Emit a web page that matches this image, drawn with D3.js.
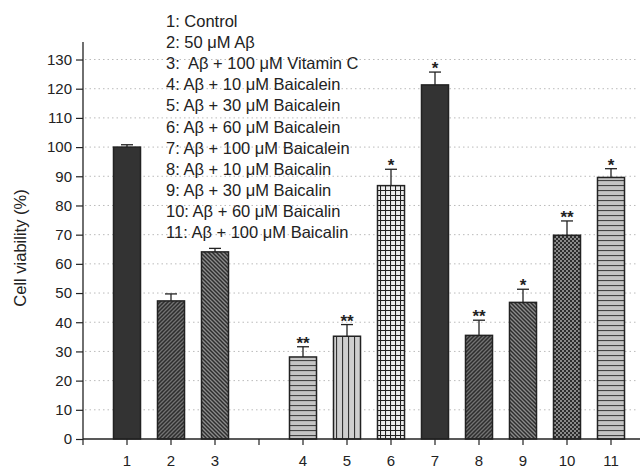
<!DOCTYPE html>
<html>
<head>
<meta charset="utf-8">
<script src="https://cdn.jsdelivr.net/npm/d3@7"></script>
<style>
  body { margin: 0; background: #fff; }
  svg text { font-family: "Liberation Sans", Arial, sans-serif; }
</style>
</head>
<body>
<script>
// data
var categories = ["1", "2", "3", "4", "5", "6", "7", "8", "9", "10", "11"];
var slots = ["1", "2", "3", "gap", "4", "5", "6", "7", "8", "9", "10", "11"];
var viability = [100, 47.3, 64.1, 28.1, 35.2, 86.8, 121.3, 35.5, 46.8, 69.8, 89.6];
var sem = [0.8, 2.4, 1.2, 3.5, 4.0, 5.6, 4.4, 5.2, 4.5, 4.9, 3.0];
var stars = ["", "", "", "**", "**", "*", "*", "**", "*", "**", "*"];
var patterns = ["solid", "fwd", "back", "horiz", "vert", "grid", "solid", "fwd", "back", "check", "horiz"];
var y_ticks = [0, 10, 20, 30, 40, 50, 60, 70, 80, 90, 100, 110, 120, 130];
var legend_lines = [
  "1: Control",
  "2: 50 \u03bcM A\u03b2",
  "3:  A\u03b2 + 100 \u03bcM Vitamin C",
  "4: A\u03b2 + 10 \u03bcM Baicalein",
  "5: A\u03b2 + 30 \u03bcM Baicalein",
  "6: A\u03b2 + 60 \u03bcM Baicalein",
  "7: A\u03b2 + 100 \u03bcM Baicalein",
  "8: A\u03b2 + 10 \u03bcM Baicalin",
  "9: A\u03b2 + 30 \u03bcM Baicalin",
  "10: A\u03b2 + 60 \u03bcM Baicalin",
  "11: A\u03b2 + 100 \u03bcM Baicalin"
];

var w = 640, h = 470;
var axis_x = 83;
var axis_y = 439;

var svg = d3.select("body").append("svg").attr("width", w).attr("height", h);
var defs = svg.append("defs");

// fill patterns
var make_pattern = function(id, size, bg, draw){
  var p = defs.append("pattern").attr("id", id)
    .attr("patternUnits", "userSpaceOnUse")
    .attr("width", size).attr("height", size);
  p.append("rect").attr("width", size).attr("height", size).attr("fill", bg);
  draw(p);
}
make_pattern("fwd", 4, "#2e2e2e", function(p){
  p.append("path").attr("d", "M-1,1 l2,-2 M0,4 l4,-4 M3,5 l2,-2")
    .attr("stroke", "#737373").attr("stroke-width", 1.3);
});
make_pattern("back", 4, "#8c8c8c", function(p){
  p.append("path").attr("d", "M-1,3 l2,2 M0,0 l4,4 M3,-1 l2,2")
    .attr("stroke", "#2e2e2e").attr("stroke-width", 1.5);
});
make_pattern("horiz", 5, "#c4c4c4", function(p){
  p.append("line").attr("x1", 0).attr("x2", 5).attr("y1", 0.5).attr("y2", 0.5)
    .attr("stroke", "#444").attr("stroke-width", 1.2);
});
make_pattern("vert", 6, "#cfcfcf", function(p){
  p.append("line").attr("y1", 0).attr("y2", 6).attr("x1", 0.5).attr("x2", 0.5)
    .attr("stroke", "#333").attr("stroke-width", 1.2);
});
make_pattern("grid", 5, "#ececec", function(p){
  p.append("path").attr("d", "M0,0.5 h5 M0.5,0 v5")
    .attr("stroke", "#222").attr("stroke-width", 1.1);
});
make_pattern("check", 4, "#2c2c2c", function(p){
  p.append("rect").attr("x", 0).attr("y", 0).attr("width", 2).attr("height", 2).attr("fill", "#8a8a8a");
  p.append("rect").attr("x", 2).attr("y", 2).attr("width", 2).attr("height", 2).attr("fill", "#8a8a8a");
});

var fill_for = function(name){
  return name == "solid" ? "#333" : "url(#" + name + ")";
}

// scales
var x = d3.scaleBand().domain(slots).range([105, 633])
  .paddingInner(0.386).paddingOuter(0.193);
var y = d3.scaleLinear().domain([0, 136]).range([axis_y, 42]);

// grid lines
svg.append("g").selectAll("line").data(y_ticks.filter(function(d){ return d > 0; }))
  .enter().append("line")
  .attr("x1", axis_x + 2).attr("x2", 636)
  .attr("y1", function(d){ return y(d); }).attr("y2", function(d){ return y(d); })
  .attr("stroke", "#bbb").attr("stroke-width", 1)
  .attr("stroke-dasharray", "1.5,3");

// bars
var rows = categories.map(function(c, i){
  return {cat: c, v: viability[i], e: sem[i], s: stars[i], p: patterns[i]};
});

var bars = svg.append("g").selectAll("g").data(rows).enter().append("g");
bars.append("rect")
  .attr("x", function(d){ return x(d.cat); })
  .attr("y", function(d){ return y(d.v); })
  .attr("width", x.bandwidth())
  .attr("height", function(d){ return axis_y - y(d.v); })
  .attr("fill", function(d){ return fill_for(d.p); })
  .attr("stroke", "#222").attr("stroke-width", 1.5);

// error bars (upper only)
var cx = function(d){ return x(d.cat) + x.bandwidth()/2; };
bars.append("line")
  .attr("x1", cx).attr("x2", cx)
  .attr("y1", function(d){ return y(d.v); })
  .attr("y2", function(d){ return y(d.v + d.e); })
  .attr("stroke", "#222").attr("stroke-width", 1.3);
bars.append("line")
  .attr("x1", function(d){ return cx(d) - 6; })
  .attr("x2", function(d){ return cx(d) + 6; })
  .attr("y1", function(d){ return y(d.v + d.e); })
  .attr("y2", function(d){ return y(d.v + d.e); })
  .attr("stroke", "#222").attr("stroke-width", 1.3);
bars.append("text")
  .attr("x", cx)
  .attr("y", function(d){ return y(d.v + d.e) + 2; })
  .attr("text-anchor", "middle")
  .attr("font-size", 17).attr("font-weight", "bold").attr("fill", "#222")
  .text(function(d){ return d.s; });

// y axis
var y_axis = d3.axisLeft(y).tickValues(y_ticks).tickSize(7).tickPadding(4);
var gy = svg.append("g").attr("transform", "translate(" + axis_x + ",0)").call(y_axis);
gy.select(".domain").attr("d", "M0," + axis_y + "V42").attr("stroke", "#222").attr("stroke-width", 1.3);
gy.selectAll(".tick line").attr("stroke", "#222").attr("stroke-width", 1.2);
gy.selectAll(".tick text").attr("font-size", 15).attr("fill", "#222")
  .style("font-family", "Liberation Sans, Arial, sans-serif");

// x axis
var gx = svg.append("g").attr("transform", "translate(0," + axis_y + ")");
gx.append("line").attr("x1", axis_x).attr("x2", 640).attr("y1", 0).attr("y2", 0)
  .attr("stroke", "#222").attr("stroke-width", 1.3);
var tick_pos = [axis_x].concat(slots.map(function(s){ return x(s) + x.bandwidth()/2; }));
gx.selectAll("line.tk").data(tick_pos).enter().append("line").attr("class", "tk")
  .attr("x1", function(d){ return d; }).attr("x2", function(d){ return d; })
  .attr("y1", 0).attr("y2", 6).attr("stroke", "#222").attr("stroke-width", 1.2);
gx.selectAll("text").data(categories).enter().append("text")
  .attr("x", function(d){ return x(d) + x.bandwidth()/2; })
  .attr("y", 26.5)
  .attr("text-anchor", "middle").attr("font-size", 15).attr("fill", "#222")
  .text(function(d){ return d; });

// y label
svg.append("text")
  .attr("transform", "translate(26,248) rotate(-90)")
  .attr("text-anchor", "middle").attr("font-size", 16.5).attr("fill", "#222")
  .text("Cell viability (%)");

// legend
svg.append("g").selectAll("text").data(legend_lines).enter().append("text")
  .attr("x", 166)
  .attr("y", function(d, i){ return 27 + i * 21.1; })
  .attr("font-size", 16.5).attr("fill", "#222")
  .attr("xml:space", "preserve").style("white-space", "pre")
  .text(function(d){ return d; });
</script>
</body>
</html>
